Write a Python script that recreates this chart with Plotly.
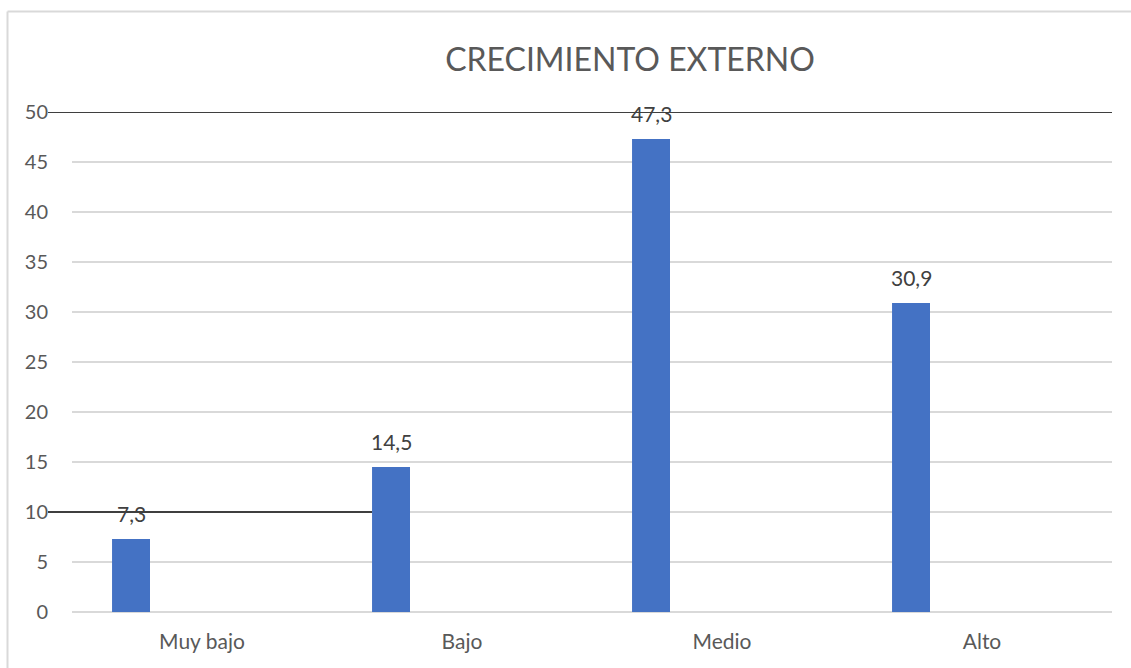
import plotly.graph_objects as go

categories = ["Muy bajo", "Bajo", "Medio", "Alto"]
values = [7.3, 14.5, 47.3, 30.9]
y_ticks = [0, 5, 10, 15, 20, 25, 30, 35, 40, 45, 50]

BAR_COLOR = "#4472C4"
TEXT_COLOR = "#595959"
GRID_COLOR = "#D9D9D9"
FONT = "Lato, Open Sans, sans-serif"

W, H = 1131, 668
L, R, T, B = 72, 19, 112, 56
plot_w = W - L - R
plot_h = H - T - B

def px_to_paper_x(px):
    return (px - L) / plot_w

def px_to_paper_y(py):
    return (H - B - py) / plot_h

labels = [f"{v:.1f}".replace(".", ",") for v in values]

fig = go.Figure()
fig.add_trace(go.Bar(
    x=categories, y=values,
    marker=dict(color=BAR_COLOR, line=dict(width=0)),
    width=0.146, offset=-0.346,
    hoverinfo="x+y",
))

for c, v, t in zip(categories, values, labels):
    fig.add_annotation(
        x=c, y=v, text=t, showarrow=False, xshift=-71, yshift=26,
        font=dict(family=FONT, size=21, color="#404040"),
        xanchor="center", yanchor="middle",
    )

shapes = [
    # chart border (left and top)
    dict(type="line", xref="paper", yref="paper",
         x0=px_to_paper_x(7.5), x1=px_to_paper_x(7.5),
         y0=px_to_paper_y(700), y1=px_to_paper_y(11.5),
         line=dict(color=GRID_COLOR, width=2)),
    dict(type="line", xref="paper", yref="paper",
         x0=px_to_paper_x(7.5), x1=px_to_paper_x(1140),
         y0=px_to_paper_y(11.5), y1=px_to_paper_y(11.5),
         line=dict(color=GRID_COLOR, width=2)),
    # dark lines
    dict(type="line", xref="paper", yref="y",
         x0=px_to_paper_x(48), x1=1.0, y0=50, y1=50,
         line=dict(color="#3F3F3F", width=2), layer="above"),
    dict(type="line", xref="paper", yref="y",
         x0=px_to_paper_x(48), x1=px_to_paper_x(372), y0=10, y1=10,
         line=dict(color="#3F3F3F", width=2), layer="above"),
]

fig.update_layout(
    width=W, height=H,
    margin=dict(l=L, r=R, t=T, b=B, autoexpand=False),
    paper_bgcolor="white", plot_bgcolor="white",
    showlegend=False,
    title=dict(text="CRECIMIENTO EXTERNO", x=px_to_paper_x(630), xref="paper",
               xanchor="center", y=1 - 60 / H, yref="container", yanchor="middle",
               font=dict(family=FONT, size=32, color=TEXT_COLOR)),
    font=dict(family=FONT, color=TEXT_COLOR),
    shapes=shapes,
    xaxis=dict(type="category", range=[-0.5, 3.5], showgrid=False, zeroline=False,
               showline=False, ticks="", tickfont=dict(size=21, color=TEXT_COLOR),
               ticklabelstandoff=15, fixedrange=True),
    yaxis=dict(range=[0, 50], tickvals=y_ticks, showgrid=True, gridcolor=GRID_COLOR,
               gridwidth=1.5, zeroline=True, zerolinecolor=GRID_COLOR, zerolinewidth=1.5,
               showline=False, ticks="", tickfont=dict(size=20, color=TEXT_COLOR),
               ticklabelstandoff=23, fixedrange=True),
)

fig.write_html("out.html")
